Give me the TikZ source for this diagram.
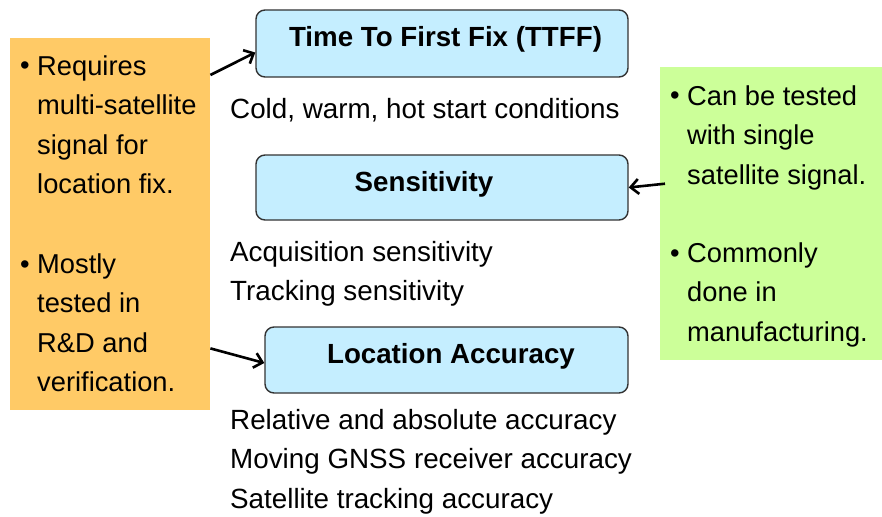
\documentclass[tikz,border=0pt]{standalone}
\usepackage{fontspec}
\setmainfont{Liberation Sans}
\usepackage{xcolor}
\definecolor{boxblue}{RGB}{197,238,255}
\definecolor{noteorange}{RGB}{255,202,102}
\definecolor{notegreen}{RGB}{204,255,153}
\usetikzlibrary{arrows,arrows.meta,positioning}

\begin{document}
\begin{tikzpicture}[x=1pt,y=-1pt,
  testbox/.style={draw=black!80,line width=1.4pt,rounded corners=9pt,fill=boxblue,
    inner sep=0pt,text height=20pt,text depth=13pt,
    font=\fontsize{27.7}{32}\selectfont\bfseries},
  note/.style={inner sep=0pt,anchor=north west},
  body/.style={inner sep=0pt,anchor=base west,align=left,font=\fontsize{27.3}{39.5}\selectfont},
  mid/.style={body,font=\fontsize{27.8}{39.5}\selectfont},
  link/.style={line width=2.6pt,-{Straight Barb[length=8pt,width=15pt]}}]
\useasboundingbox (0,0) rectangle (882,516);
% side notes
\node[note,fill=noteorange,minimum width=200,minimum height=372] (rd) at (10,38) {};
\node[note,fill=notegreen,minimum width=222,minimum height=293] (mfg) at (660,67) {};
% the three test boxes
\node[testbox,minimum width=372,minimum height=67] (ttff) at (442,43.5) {\hspace*{7pt}Time To First Fix (TTFF)};
\node[testbox,minimum width=372,minimum height=65] (sens) at (442,187.5) {Sensitivity\hspace*{36pt}};
\node[testbox,minimum width=363,minimum height=66,xshift=4] (loc) at (442.5,360) {\hspace*{9pt}Location Accuracy};
% what is measured (anchored at the last line)
\node[mid] (ttfftxt) at (230,118) {Cold, warm, hot start conditions};
\node[mid] (senstxt) at (230,300.5) {Acquisition sensitivity\\Tracking sensitivity};
\node[mid] (loctxt) at (230,508) {Relative and absolute accuracy\\Moving GNSS receiver accuracy\\Satellite tracking accuracy};
% bullets
\node[body] (rdbul1) at (20,75) {\textbullet};
\node[body] (rdtxt1) at (37,193.5) {Requires\\multi-satellite\\signal for\\location fix.};
\node[body] (rdbul2) at (20,273) {\textbullet};
\node[body] (rdtxt2) at (37,391.5) {Mostly\\tested in\\R\&D and\\verification.};
\node[body] (mfgbul1) at (670,105) {\textbullet};
\node[body] (mfgtxt1) at (687,184) {Can be tested\\with single\\satellite signal.};
\node[body] (mfgbul2) at (670,262) {\textbullet};
\node[body] (mfgtxt2) at (687,341) {Commonly\\done in\\manufacturing.};
% arrows
\draw[link] ([yshift=-37pt]rd.north east) -- ([yshift=-9pt]ttff.west);
\draw[link] ([yshift=62pt]rd.south east) -- ([yshift=-3pt]loc.west);
\draw[link] ([xshift=5pt,yshift=30pt]mfg.west) -- (sens.east);
\end{tikzpicture}
\end{document}
